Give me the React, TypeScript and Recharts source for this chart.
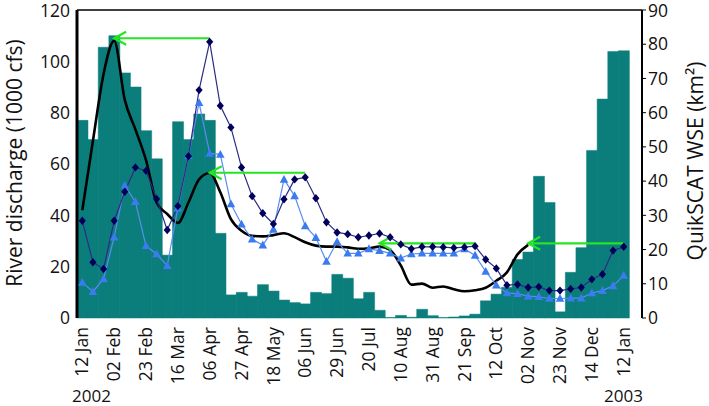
import React from 'react';
import {Bar, ComposedChart, Line, ReferenceLine, XAxis, YAxis} from 'recharts';

const FONT = '"Open Sans", sans-serif';
const TEAL = '#0b7e7c';

// weekly samples, 12 Jan 2002 .. early Jan 2003
const weeks = Array.from({length: 52}, (_, i) => i);
const tickLabels = ['12 Jan', '02 Feb', '23 Feb', '16 Mar', '06 Apr', '27 Apr', '18 May', '06 Jun', '29 Jun',
    '20 Jul', '10 Aug', '31 Aug', '21 Sep', '12 Oct', '02 Nov', '23 Nov', '14 Dec', '12 Jan'];

// bars, left axis
const bars = [77, 69.5, 105.5, 110, 95.5, 90, 73, 62, 24.5, 76.5, 69.5, 79.5, 77, 33, 9, 10, 8.5, 13, 10.5, 7,
    6, 5.5, 10, 9.5, 17, 15.5, 7.5, 10, 3, 0.2, 1, 0.3, 3.4, 0.9, 0.2, 0.4, 0.8, 1.5, 6.7, 9.3,
    12, 22.8, 25.7, 55.2, 45, 2.4, 17.8, 27.4, 65.3, 85.3, 103.8, 104.1];

// river discharge (1000 cfs), left axis
const discharge = [42, 69, 95, 108, 85, 73.5, 61.5, 45, 40.5, 37, 45, 54, 56.5, 49, 38.5, 34, 32, 31.8, 32.3, 33,
    31.5, 29.5, 28.2, 27.8, 27.8, 27.5, 27, 27.2, 27.8, 26.5, 20.5, 13, 13.4, 11.8, 12.3, 11.2, 10.4, 10.8, 11.8, 14.5,
    17.8, 24.8, 28.5, null, null, null, null, null, null, null, null, null];

// QuikSCAT WSE (km2), right axis
const wseDiamond = [28.4, 16.3, 14.3, 28.4, 36.9, 44.0, 43.0, 34.8, 25.7, 32.7, 47.3, 66.6, 80.7, 62.0, 55.7, 44.0,
    35.6, 30.6, 27.5, 34.7, 40.5, 41.1, 35.0, 28.0, 25.0, 24.5, 23.6, 24.1, 24.7, 23.6, 21.5, 20.2, 20.8, 20.8, 20.7,
    20.5, 20.7, 21.0, 17.1, 14.5, 9.6, 9.8, 8.9, 9.1, 8.0, 8.0, 8.5, 8.9, 11.3, 12.8, 19.7, 20.8];
const wseTriangle = [10.4, 7.7, 11.4, 23.6, 38.7, 34.0, 21.1, 18.7, 15.3, 32.1, 47.4, 62.9, 48.1, 47.8, 33.3, 27.4,
    23.0, 21.3, 25.9, 40.5, 35.7, 26.9, 23.5, 16.5, 22.3, 18.9, 18.9, 20.2, 19.7, 18.9, 17.5, 18.7, 18.9, 18.9, 18.9,
    18.9, 20.2, 18.3, 13.6, 9.6, 7.3, 7.1, 6.4, 6.2, 5.7, 5.7, 5.8, 5.8, 7.3, 8.0, 9.4, 12.4];

// lag arrows: from week -> to week at a discharge level
const arrows = [
    {from: 12, to: 3, y: 109},
    {from: 21, to: 12, y: 56.6},
    {from: 37, to: 28, y: 29.1},
    {from: 51, to: 42, y: 29.1},
];

const leftTicks = [0, 20, 40, 60, 80, 100, 120];
const rightTicks = [0, 10, 20, 30, 40, 50, 60, 70, 80, 90];
const markTicks = [5, 10, 15, 20, 25, 30, 35, 40, 45, 50];

const data = weeks.map((w, i) => ({
    week: w,
    bar: bars[i],
    discharge: discharge[i],
    diamond: wseDiamond[i],
    triangle: wseTriangle[i],
}));

const XTick = (props) => {
    const {x, y, payload} = props;
    const w = payload.value;
    if (w % 3 !== 0) return <g/>;
    return (
        <text x={x} y={y} dy="0.35em" transform={`rotate(-90, ${x}, ${y})`} textAnchor="end"
              fontSize={17.5} fontFamily={FONT} fill="#111">{tickLabels[w / 3]}</text>
    );
};

const Diamond = (props) => {
    const {cx, cy, index} = props;
    if (cx == null || cy == null) return <g key={`d${index}`}/>;
    return <path key={`d${index}`} d={`M${cx},${cy - 4.2}L${cx + 3.6},${cy}L${cx},${cy + 4.2}L${cx - 3.6},${cy}Z`}
                 fill="#00005c"/>;
};

const Triangle = (props) => {
    const {cx, cy, index} = props;
    if (cx == null || cy == null) return <g key={`t${index}`}/>;
    return <path key={`t${index}`} d={`M${cx},${cy - 4.5}L${cx + 4.3},${cy + 3.3}L${cx - 4.3},${cy + 3.3}Z`}
                 fill="#3b7bf0"/>;
};

const Arrow = (props) => {
    const {x1, y1, x2, y2} = props;
    const dir = x2 < x1 ? 1 : -1;
    return (
        <g>
            <line x1={x1} y1={y1} x2={x2} y2={y2} stroke="#22e622" strokeWidth={2.2}/>
            <path d={`M${x2 + dir * 12},${y2 - 6.5}L${x2},${y2}L${x2 + dir * 12},${y2 + 6.5}`}
                  fill="none" stroke="#22e622" strokeWidth={2.2}/>
        </g>
    );
};

const leftTitle = ({viewBox}) => {
    const cy = viewBox ? viewBox.y + viewBox.height / 2 - 1 : 163;
    return (
        <text x={22} y={cy} transform={`rotate(-90, 22, ${cy})`} textAnchor="middle"
              fontSize={21} fontFamily={FONT} fill="#111">River discharge (1000 cfs)</text>
    );
};

const rightTitle = ({viewBox}) => {
    const cy = viewBox ? viewBox.y + viewBox.height / 2 - 3 : 161;
    return (
        <text x={703} y={cy} transform={`rotate(-90, 703, ${cy})`} textAnchor="middle"
              fontSize={21} fontFamily={FONT} fill="#111">QuikSCAT WSE (km²)</text>
    );
};

const years = ({viewBox}) => {
    if (!viewBox) return null;
    return (
        <g fontSize={17} fontFamily={FONT} fill="#111">
            <text x={viewBox.x - 5} y={401.5}>2002</text>
            <text x={viewBox.x + viewBox.width + 1} y={401.5} textAnchor="end">2003</text>
        </g>
    );
};

export default function App() {
    const tickStyle = {fontSize: 17.5, fontFamily: FONT, fill: '#111'};
    return (
        <div style={{position: 'absolute', left: 0, top: 0}}>
            <ComposedChart width={709} height={406} data={data} barCategoryGap={0} barGap={0}
                           margin={{top: 10, right: 0, bottom: 0, left: 0}}>
                <XAxis xAxisId="marks" type="number" domain={[0, 52]} ticks={markTicks} allowDataOverflow
                       height={0} padding={{left: 0, right: 13}} tick={false} tickSize={6}
                       tickLine={{stroke: '#000', strokeWidth: 1.2}} axisLine={{stroke: '#000', strokeWidth: 3}}/>
                <XAxis dataKey="week" type="category" interval={0} height={88} padding={{left: 0, right: 13}}
                       axisLine={false} tickLine={false} tickSize={6} tickMargin={3} tick={XTick} label={years}/>
                <YAxis yAxisId="left" orientation="left" width={77} domain={[0, 120]} ticks={leftTicks}
                       tickLine={false} tickSize={5} tickMargin={2} axisLine={{stroke: '#000', strokeWidth: 3}}
                       tick={tickStyle} label={leftTitle}/>
                <YAxis yAxisId="right" orientation="right" width={67} domain={[0, 90]} ticks={rightTicks}
                       tickSize={4} tickMargin={2} tickLine={{stroke: '#000'}}
                       axisLine={{stroke: '#000', strokeWidth: 2}} tick={tickStyle} label={rightTitle}/>
                <Bar yAxisId="left" dataKey="bar" fill={TEAL} stroke={TEAL} strokeWidth={0.5}
                     isAnimationActive={false}/>
                <Line yAxisId="left" type="monotone" dataKey="discharge" stroke="#000" strokeWidth={2.6}
                      dot={false} activeDot={false} isAnimationActive={false}/>
                <Line yAxisId="right" type="linear" dataKey="triangle" stroke="#5a8cf0" strokeWidth={1.2}
                      dot={Triangle} activeDot={false} isAnimationActive={false}/>
                <Line yAxisId="right" type="linear" dataKey="diamond" stroke="#2c2c82" strokeWidth={1.2}
                      dot={Diamond} activeDot={false} isAnimationActive={false}/>
                <ReferenceLine yAxisId="left" y={120} stroke="#000" strokeWidth={1.5}/>
                {arrows.map((a, i) => (
                    <ReferenceLine key={i} yAxisId="left" segment={[{x: a.from, y: a.y}, {x: a.to, y: a.y}]}
                                   shape={Arrow}/>
                ))}
            </ComposedChart>
        </div>
    );
}
